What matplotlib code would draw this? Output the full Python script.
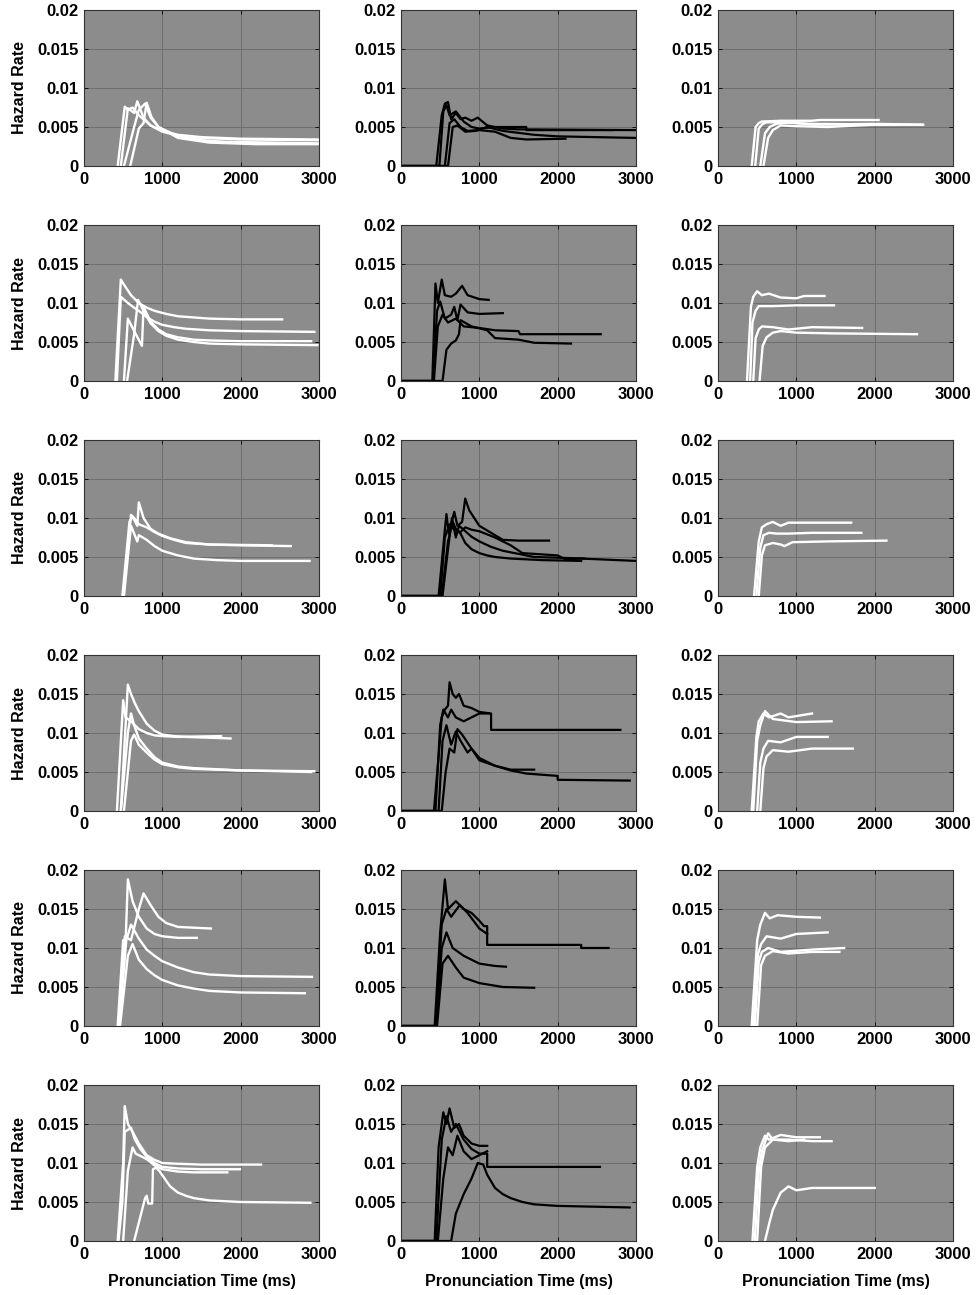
import matplotlib
matplotlib.use("Agg")
import matplotlib.pyplot as plt

plt.rcParams['font.family'] = ['Liberation Sans', 'DejaVu Sans']
plt.rcParams['font.weight'] = 'bold'

# ---------------- data (ms, hazard rate) ----------------
x_ticks = [0, 1000, 2000, 3000]
x_tick_labels = ["0", "1000", "2000", "3000"]
y_ticks = [0, 0.005, 0.01, 0.015, 0.02]
y_tick_labels = ["0", "0.005", "0.01", "0.015", "0.02"]
column_colors = ["white", "black", "white"]
y_label = "Hazard Rate"
x_label = "Pronunciation Time (ms)"

r1c1 = [
    ([430, 520, 560, 620, 700, 850, 1000, 1200, 1500, 2000, 3000], [0, 0.0076, 0.0072, 0.0075, 0.0065, 0.0052, 0.0045, 0.0040, 0.0037, 0.0035, 0.0034]),
    ([470, 560, 640, 680, 760, 850, 1000, 1200, 1500, 2000, 3000], [0, 0.0074, 0.0068, 0.0083, 0.0062, 0.0052, 0.0044, 0.0039, 0.0036, 0.0034, 0.0033]),
    ([510, 640, 700, 780, 850, 950, 1200, 1500, 1800, 3000], [0, 0.0050, 0.0072, 0.0080, 0.0062, 0.0050, 0.0038, 0.0033, 0.0031, 0.0029]),
    ([590, 700, 760, 800, 860, 950, 1200, 1600, 2200, 3000], [0, 0.0048, 0.0055, 0.0081, 0.0063, 0.0050, 0.0036, 0.0030, 0.0028, 0.0028]),
]
r1c2 = [
    ([0, 450, 520, 560, 600, 640, 700, 760, 820, 900, 980, 1100, 1300, 1500, 3000],
     [0, 0, 0.0065, 0.0080, 0.0082, 0.0060, 0.0068, 0.0060, 0.0062, 0.0058, 0.0062, 0.0052, 0.0048, 0.0047, 0.0046]),
    ([0, 490, 540, 580, 620, 700, 800, 900, 1000, 1200, 1600, 1600, 2700],
     [0, 0, 0.0070, 0.0078, 0.0065, 0.0070, 0.0057, 0.0050, 0.0048, 0.0050, 0.0050, 0.0046, 0.0046]),
    ([0, 560, 620, 680, 760, 850, 1000, 1200, 1400, 1600, 2100],
     [0, 0, 0.0055, 0.0060, 0.0050, 0.0045, 0.0046, 0.0044, 0.0036, 0.0034, 0.0035]),
    ([0, 600, 660, 720, 820, 950, 1100, 1300, 1700, 2000, 3000],
     [0, 0, 0.0050, 0.0052, 0.0044, 0.0045, 0.0050, 0.0045, 0.0040, 0.0038, 0.0036]),
]
r1c3 = [
    ([430, 480, 520, 560, 800, 1200, 1300, 2050], [0, 0.0050, 0.0055, 0.0057, 0.0058, 0.0058, 0.0059, 0.0059]),
    ([475, 520, 570, 620, 800, 1200, 2300], [0, 0.0048, 0.0054, 0.0056, 0.0056, 0.0054, 0.0053]),
    ([540, 600, 660, 740, 900, 1200, 2000, 2600], [0, 0.0042, 0.0050, 0.0054, 0.0056, 0.0053, 0.0054, 0.0053]),
    ([580, 640, 700, 800, 1000, 1400, 2000, 2620], [0, 0.0036, 0.0046, 0.0052, 0.0051, 0.0050, 0.0053, 0.0053]),
]
r2c1 = [
    ([400, 470, 520, 600, 700, 800, 900, 1050, 1200, 1600, 2000, 2530], [0, 0.0130, 0.0122, 0.0110, 0.0100, 0.0094, 0.0090, 0.0086, 0.0083, 0.0080, 0.0079, 0.0079]),
    ([420, 470, 560, 640, 700, 800, 900, 1000, 1150, 1300, 1600, 2000, 2940], [0, 0.0108, 0.0100, 0.0094, 0.0090, 0.0082, 0.0076, 0.0072, 0.0069, 0.0067, 0.0065, 0.0064, 0.0063]),
    ([510, 560, 620, 740, 760, 850, 950, 1050, 1200, 1400, 1600, 2000, 2900], [0, 0.0080, 0.0068, 0.0045, 0.0095, 0.0076, 0.0066, 0.0060, 0.0056, 0.0053, 0.0052, 0.0051, 0.0051]),
    ([550, 640, 690, 760, 850, 950, 1050, 1200, 1400, 1600, 2000, 2980], [0, 0.0060, 0.0104, 0.0090, 0.0074, 0.0064, 0.0058, 0.0053, 0.0050, 0.0048, 0.0047, 0.0046]),
]
r2c2 = [
    ([0, 400, 440, 470, 520, 560, 640, 700, 780, 850, 1000, 1120],
     [0, 0, 0.0125, 0.0100, 0.0130, 0.0110, 0.0108, 0.0112, 0.0122, 0.0110, 0.0105, 0.0104]),
    ([0, 410, 460, 500, 560, 640, 680, 720, 760, 850, 1000, 1300],
     [0, 0, 0.0090, 0.0102, 0.0080, 0.0085, 0.0095, 0.0078, 0.0098, 0.0088, 0.0086, 0.0087]),
    ([0, 420, 470, 530, 600, 700, 800, 1000, 1200, 1500, 1520, 2550],
     [0, 0, 0.0070, 0.0085, 0.0075, 0.0080, 0.0070, 0.0068, 0.0065, 0.0064, 0.0060, 0.0060]),
    ([0, 530, 580, 640, 700, 740, 760, 900, 1100, 1200, 1500, 1700, 2170],
     [0, 0, 0.0040, 0.0048, 0.0052, 0.0060, 0.0078, 0.0070, 0.0065, 0.0055, 0.0053, 0.0049, 0.0048]),
]
r2c3 = [
    ([370, 420, 450, 500, 560, 650, 800, 1000, 1100, 1360], [0, 0.0095, 0.0108, 0.0115, 0.0110, 0.0112, 0.0107, 0.0106, 0.0109, 0.0109]),
    ([410, 440, 480, 520, 700, 1000, 1480], [0, 0.0075, 0.0090, 0.0096, 0.0096, 0.0097, 0.0097]),
    ([450, 480, 520, 560, 700, 900, 1200, 1840], [0, 0.0055, 0.0066, 0.0070, 0.0069, 0.0066, 0.0069, 0.0068]),
    ([530, 570, 620, 700, 800, 1000, 1500, 2540], [0, 0.0045, 0.0056, 0.0062, 0.0064, 0.0062, 0.0061, 0.0060]),
]
r3c1 = [
    ([490, 580, 620, 680, 700, 760, 850, 950, 1100, 1300, 1600, 2000, 2640], [0, 0.0095, 0.0102, 0.0090, 0.0120, 0.0100, 0.0086, 0.0080, 0.0074, 0.0069, 0.0066, 0.0065, 0.0064]),
    ([500, 600, 640, 700, 800, 900, 1000, 1150, 1300, 1600, 2400], [0, 0.0104, 0.0100, 0.0092, 0.0088, 0.0082, 0.0077, 0.0072, 0.0068, 0.0066, 0.0065]),
    ([510, 600, 680, 700, 800, 900, 1000, 1200, 1400, 1700, 2000, 2880], [0, 0.0090, 0.0070, 0.0078, 0.0072, 0.0064, 0.0058, 0.0052, 0.0048, 0.0046, 0.0045, 0.0045]),
]
r3c2 = [
    ([0, 480, 560, 580, 610, 680, 720, 780, 820, 870, 1000, 1200, 1300, 1500, 1890],
     [0, 0, 0.0085, 0.0105, 0.0080, 0.0108, 0.0090, 0.0095, 0.0125, 0.0110, 0.0090, 0.0078, 0.0072, 0.0071, 0.0071]),
    ([0, 500, 560, 620, 680, 760, 820, 900, 1000, 1200, 1400, 1550, 2000, 2100, 2300, 3000],
     [0, 0, 0.0075, 0.0092, 0.0085, 0.0082, 0.0088, 0.0085, 0.0083, 0.0075, 0.0065, 0.0055, 0.0052, 0.0047, 0.0048, 0.0045]),
    ([0, 520, 600, 660, 700, 760, 820, 900, 1000, 1100, 1200, 1400, 1800, 2300],
     [0, 0, 0.0070, 0.0095, 0.0086, 0.0080, 0.0068, 0.0060, 0.0055, 0.0052, 0.0050, 0.0048, 0.0046, 0.0045]),
    ([0, 530, 600, 650, 700, 740, 800, 900, 1000, 1150, 1300, 1700, 2350],
     [0, 0, 0.0060, 0.0100, 0.0075, 0.0090, 0.0085, 0.0076, 0.0070, 0.0063, 0.0058, 0.0050, 0.0048]),
]
r3c3 = [
    ([460, 520, 560, 620, 700, 800, 900, 1000, 1700], [0, 0.0070, 0.0088, 0.0092, 0.0095, 0.0090, 0.0094, 0.0094, 0.0094]),
    ([490, 540, 580, 650, 750, 900, 1200, 1830], [0, 0.0062, 0.0078, 0.0081, 0.0080, 0.0080, 0.0081, 0.0081]),
    ([520, 560, 600, 700, 800, 850, 950, 1400, 2150], [0, 0.0052, 0.0065, 0.0068, 0.0066, 0.0064, 0.0069, 0.0070, 0.0071]),
]
r4c1 = [
    ([420, 500, 530, 600, 700, 800, 900, 1000, 1200, 1750], [0, 0.0142, 0.0120, 0.0115, 0.0105, 0.0100, 0.0097, 0.0096, 0.0095, 0.0096]),
    ([470, 560, 600, 650, 700, 800, 900, 1000, 1150, 1300, 1870], [0, 0.0162, 0.0150, 0.0138, 0.0128, 0.0112, 0.0103, 0.0098, 0.0096, 0.0095, 0.0093]),
    ([470, 560, 600, 640, 700, 800, 900, 1000, 1200, 1400, 2000, 2940], [0, 0.0100, 0.0125, 0.0110, 0.0093, 0.0080, 0.0069, 0.0062, 0.0057, 0.0055, 0.0052, 0.0051]),
    ([510, 600, 640, 700, 800, 900, 1000, 1200, 1400, 2000, 2900], [0, 0.0090, 0.0098, 0.0085, 0.0075, 0.0066, 0.0060, 0.0056, 0.0054, 0.0052, 0.0050]),
]
r4c2 = [
    ([0, 420, 480, 520, 560, 600, 620, 660, 700, 740, 800, 900, 1000, 1150, 1150, 2800],
     [0, 0, 0.0070, 0.0120, 0.0130, 0.0135, 0.0165, 0.0150, 0.0145, 0.0150, 0.0135, 0.0132, 0.0127, 0.0125, 0.0104, 0.0104]),
    ([0, 440, 500, 540, 600, 640, 700, 800, 900, 1000, 1120],
     [0, 0, 0.0110, 0.0130, 0.0120, 0.0130, 0.0120, 0.0115, 0.0120, 0.0125, 0.0125]),
    ([0, 480, 530, 580, 640, 700, 760, 850, 900, 1000, 1200, 1400, 1700],
     [0, 0, 0.0090, 0.0110, 0.0085, 0.0102, 0.0090, 0.0075, 0.0080, 0.0068, 0.0058, 0.0053, 0.0053]),
    ([0, 520, 570, 620, 680, 720, 780, 900, 1000, 1200, 1400, 1600, 2000, 2000, 2920],
     [0, 0, 0.0050, 0.0080, 0.0075, 0.0105, 0.0098, 0.0080, 0.0065, 0.0058, 0.0052, 0.0048, 0.0045, 0.0040, 0.0039]),
]
r4c3 = [
    ([430, 490, 520, 580, 650, 800, 900, 1200], [0, 0.0095, 0.0115, 0.0125, 0.0120, 0.0125, 0.0120, 0.0125]),
    ([450, 500, 540, 600, 700, 1000, 1450], [0, 0.0090, 0.0110, 0.0128, 0.0118, 0.0114, 0.0115]),
    ([500, 540, 580, 640, 800, 1000, 1400], [0, 0.0062, 0.0080, 0.0090, 0.0088, 0.0095, 0.0095]),
    ([540, 580, 620, 700, 900, 1200, 1720], [0, 0.0055, 0.0070, 0.0078, 0.0076, 0.0080, 0.0080]),
]
r5c1 = [
    ([430, 500, 530, 560, 620, 700, 800, 900, 1000, 1200, 1440], [0, 0.0110, 0.0105, 0.0188, 0.0160, 0.0140, 0.0125, 0.0118, 0.0115, 0.0113, 0.0113]),
    ([440, 520, 600, 700, 760, 850, 950, 1050, 1200, 1620], [0, 0.0115, 0.0110, 0.0150, 0.0170, 0.0155, 0.0140, 0.0132, 0.0127, 0.0125]),
    ([450, 540, 600, 700, 800, 900, 1000, 1200, 1400, 1600, 2000, 2910], [0, 0.0110, 0.0130, 0.0112, 0.0098, 0.0090, 0.0083, 0.0075, 0.0069, 0.0066, 0.0064, 0.0063]),
    ([460, 560, 620, 700, 800, 900, 1000, 1200, 1400, 1600, 2000, 2820], [0, 0.0090, 0.0105, 0.0085, 0.0073, 0.0065, 0.0059, 0.0052, 0.0048, 0.0045, 0.0043, 0.0042]),
]
r5c2 = [
    ([0, 430, 500, 560, 600, 700, 800, 900, 1000, 1060, 1100, 1100, 2300, 2300, 2650],
     [0, 0, 0.0120, 0.0188, 0.0150, 0.0160, 0.0150, 0.0145, 0.0135, 0.0128, 0.0128, 0.0104, 0.0104, 0.0100, 0.0100]),
    ([0, 440, 520, 580, 640, 750, 850, 1000, 1100],
     [0, 0, 0.0130, 0.0150, 0.0140, 0.0155, 0.0145, 0.0125, 0.0118]),
    ([0, 450, 520, 580, 660, 800, 900, 1000, 1200, 1340],
     [0, 0, 0.0100, 0.0120, 0.0100, 0.0090, 0.0085, 0.0080, 0.0077, 0.0076]),
    ([0, 460, 530, 600, 700, 800, 1000, 1300, 1700],
     [0, 0, 0.0080, 0.0090, 0.0075, 0.0062, 0.0055, 0.0050, 0.0049]),
]
r5c3 = [
    ([430, 500, 540, 600, 660, 760, 1000, 1300], [0, 0.0110, 0.0130, 0.0145, 0.0138, 0.0142, 0.0140, 0.0139]),
    ([450, 510, 550, 620, 800, 1000, 1400], [0, 0.0092, 0.0105, 0.0115, 0.0112, 0.0118, 0.0120]),
    ([470, 520, 560, 640, 800, 1200, 1610], [0, 0.0082, 0.0095, 0.0100, 0.0095, 0.0098, 0.0100]),
    ([500, 550, 600, 700, 900, 1200, 1550], [0, 0.0078, 0.0090, 0.0096, 0.0093, 0.0095, 0.0095]),
]
r6c1 = [
    ([430, 500, 520, 560, 620, 700, 800, 900, 1000, 1200, 1500, 2260], [0, 0.0100, 0.0173, 0.0150, 0.0140, 0.0125, 0.0110, 0.0104, 0.0100, 0.0099, 0.0098, 0.0098]),
    ([440, 490, 520, 600, 650, 720, 800, 900, 1000, 1200, 1500, 1990], [0, 0.0050, 0.0140, 0.0145, 0.0130, 0.0118, 0.0108, 0.0100, 0.0095, 0.0093, 0.0092, 0.0092]),
    ([500, 560, 620, 660, 800, 900, 1000, 1200, 1400, 1830], [0, 0.0090, 0.0120, 0.0112, 0.0105, 0.0097, 0.0092, 0.0089, 0.0088, 0.0088]),
    ([640, 780, 800, 820, 870, 880, 920, 960, 1030, 1100, 1200, 1300, 1400, 1600, 2000, 2890],
     [0, 0.0055, 0.0058, 0.0048, 0.0048, 0.0092, 0.0094, 0.0090, 0.0080, 0.0070, 0.0062, 0.0058, 0.0055, 0.0052, 0.0050, 0.0049]),
]
r6c2 = [
    ([0, 430, 480, 540, 580, 620, 680, 740, 800, 900, 1000, 1100],
     [0, 0, 0.0120, 0.0165, 0.0150, 0.0170, 0.0145, 0.0150, 0.0135, 0.0125, 0.0122, 0.0122]),
    ([0, 450, 520, 580, 640, 700, 800, 900, 1000, 1100, 1100, 2540],
     [0, 0, 0.0130, 0.0160, 0.0140, 0.0150, 0.0130, 0.0118, 0.0112, 0.0112, 0.0095, 0.0095]),
    ([0, 470, 540, 600, 660, 720, 800, 900, 1000, 1100],
     [0, 0, 0.0080, 0.0120, 0.0110, 0.0135, 0.0115, 0.0105, 0.0110, 0.0115]),
    ([0, 640, 700, 800, 900, 980, 1050, 1100, 1200, 1300, 1400, 1550, 1700, 2000, 2920],
     [0, 0, 0.0035, 0.0060, 0.0080, 0.0100, 0.0098, 0.0085, 0.0068, 0.0060, 0.0055, 0.0050, 0.0047, 0.0045, 0.0043]),
]
r6c3 = [
    ([440, 500, 540, 600, 650, 800, 1000, 1300], [0, 0.0095, 0.0120, 0.0135, 0.0130, 0.0136, 0.0133, 0.0133]),
    ([470, 520, 560, 640, 700, 900, 1200, 1450], [0, 0.0090, 0.0115, 0.0138, 0.0130, 0.0130, 0.0128, 0.0128]),
    ([500, 550, 600, 700, 900, 1100], [0, 0.0095, 0.0120, 0.0130, 0.0128, 0.0130]),
    ([600, 660, 700, 800, 900, 1000, 1200, 2000], [0, 0.0025, 0.0040, 0.0062, 0.0070, 0.0065, 0.0068, 0.0068]),
]

panels = [
    [r1c1, r1c2, r1c3],
    [r2c1, r2c2, r2c3],
    [r3c1, r3c2, r3c3],
    [r4c1, r4c2, r4c3],
    [r5c1, r5c2, r5c3],
    [r6c1, r6c2, r6c3],
]

# ---------------- layout ----------------
W, H = 976, 1295
fig = plt.figure(figsize=(W / 100, H / 100), dpi=100)
col_left = [84, 401, 718]
row_top = [10, 225, 440, 655, 870, 1085]
ax_w, ax_h = 235, 156

for r in range(6):
    for c in range(3):
        ax = fig.add_axes([col_left[c] / W, (H - row_top[r] - ax_h) / H, ax_w / W, ax_h / H])
        ax.set_facecolor('#8c8c8c')
        for xs, ys in panels[r][c]:
            ax.plot(xs, ys, color=column_colors[c], lw=1.7 if c != 1 else 1.6)
        ax.set_xlim(0, 3000)
        ax.set_ylim(0, 0.02)
        ax.set_xticks(x_ticks)
        ax.set_xticklabels(x_tick_labels)
        ax.set_yticks(y_ticks)
        ax.set_yticklabels(y_tick_labels)
        ax.grid(True, color='#6e6e6e', lw=0.7)
        ax.set_axisbelow(True)
        ax.tick_params(direction='in', length=3, width=0.6, labelsize=12, pad=4,
                       top=True, right=True)
        for lab in ax.get_xticklabels() + ax.get_yticklabels():
            lab.set_fontweight('bold')
        for s in ax.spines.values():
            s.set_color('#333333')
            s.set_linewidth(0.8)
        if c == 0:
            ax.set_ylabel(y_label, fontsize=11.5, fontweight='bold', labelpad=7)
        if r == 5:
            ax.set_xlabel(x_label, fontsize=11.5, fontweight='bold', labelpad=9)

fig.savefig('out.png', dpi=100)
